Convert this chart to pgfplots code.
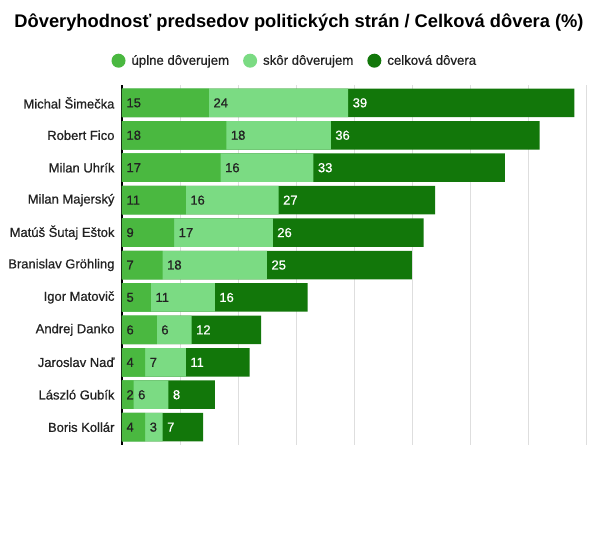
\documentclass[border=0pt]{standalone}
\usepackage{fontspec}
\setmainfont{Liberation Sans}
\newfontfamily\medfont[FakeBold=0.7]{Liberation Sans}
\usepackage{pgfplots}
\usepackage{pgfplotstable}
\pgfplotsset{compat=1.18}

\definecolor{cMid}{HTML}{4AB840}
\definecolor{cLight}{HTML}{7BDB83}
\definecolor{cDark}{HTML}{12770A}
\definecolor{cText}{HTML}{222222}

% y  uplne  skor  celkova
\pgfplotstableread{
y a b c
0 15 24 39
1 18 18 36
2 17 16 33
3 11 16 27
4 9 17 26
5 7 18 25
6 5 11 16
7 6 6 12
8 4 7 11
9 2 6 8
10 4 3 7
}\data

\begin{document}
\begin{tikzpicture}
\path[fill=white] (0,0) rectangle (598pt,558pt);
\node[font=\bfseries\fontsize{18.3}{21}\selectfont, text=black] at (299pt,535pt)
  {Dôveryhodnosť predsedov politických strán / Celková dôvera (\%)};
\begin{axis}[
    at={(122pt,113pt)}, anchor=south west,
    scale only axis, width=464pt, height=360pt,
    xmin=0, xmax=80, ymin=-0.55, ymax=10.55,
    y dir=reverse,
    /pgf/number format/assume math mode=true,
    axis x line=bottom, x axis line style={draw=none},
    axis y line=left, y axis line style={black, line width=1.5pt, -},
    xtick={0,10,...,80}, xticklabels={},
    xmajorgrids, grid style={draw=black!13, line width=0.8pt},
    major tick length=0pt,
    ytick={0,...,10},
    yticklabels={Michal Šimečka, Robert Fico, Milan Uhrík, Milan Majerský,
      Matúš Šutaj Eštok, Branislav Gröhling, Igor Matovič, Andrej Danko,
      Jaroslav Naď, László Gubík, Boris Kollár},
    yticklabel style={font=\medfont\fontsize{13}{15}\selectfont, text=cText, xshift=-4pt},
    legend style={at={(0.3725,1.0675)}, anchor=center, draw=none, fill=none,
      legend columns=-1, font=\medfont\fontsize{13.2}{15}\selectfont, text=cText,
      /tikz/every odd column/.append style={column sep=4pt},
      /tikz/every even column/.append style={column sep=12pt}},
    legend image code/.code={\fill[#1, draw=none] (0pt,0pt) circle (7pt);},
    bar width=28.5pt,
    clip=false,
]
\addlegendimage{fill=cMid}
\addlegendentry{úplne dôverujem}
\addlegendimage{fill=cLight}
\addlegendentry{skôr dôverujem}
\addlegendimage{fill=cDark}
\addlegendentry{celková dôvera}

\addplot[forget plot, xbar, bar shift=0pt, fill=cDark, draw=none]
  table[x expr=\thisrow{a}+\thisrow{b}+\thisrow{c}, y=y] {\data};
\addplot[forget plot, xbar, bar shift=0pt, fill=cLight, draw=none]
  table[x expr=\thisrow{a}+\thisrow{b}, y=y] {\data};
\addplot[forget plot, xbar, bar shift=0pt, fill=cMid, draw=none]
  table[x=a, y=y] {\data};

\addplot[forget plot, draw=none, mark=none, nodes near coords, point meta=explicit,
  every node near coord/.append style={anchor=west, xshift=1pt, text=cText, font=\medfont\fontsize{13}{15}\selectfont}]
  table[x expr=0, y=y, meta=a] {\data};
\addplot[forget plot, draw=none, mark=none, nodes near coords, point meta=explicit,
  every node near coord/.append style={anchor=west, xshift=1pt, text=cText, font=\medfont\fontsize{13}{15}\selectfont}]
  table[x=a, y=y, meta=b] {\data};
\addplot[forget plot, draw=none, mark=none, nodes near coords, point meta=explicit,
  every node near coord/.append style={anchor=west, xshift=1pt, text=white, font=\medfont\fontsize{13}{15}\selectfont}]
  table[x expr=\thisrow{a}+\thisrow{b}, y=y, meta=c] {\data};
\end{axis}
\end{tikzpicture}
\end{document}
